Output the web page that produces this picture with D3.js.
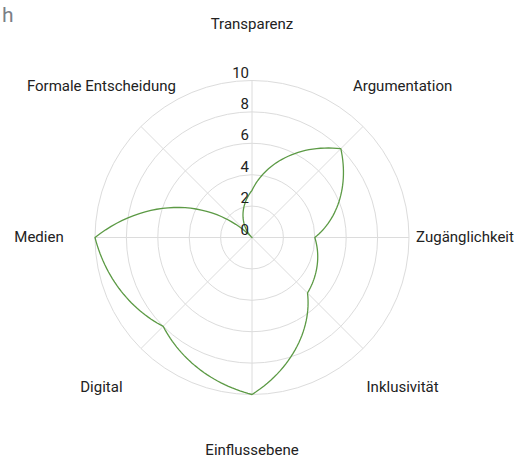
<!DOCTYPE html>
<html>
<head>
<meta charset="utf-8">
<script src="https://cdn.jsdelivr.net/npm/d3@7"></script>
<style>
  body { margin: 0; background: #fff; }
  svg { display: block; font-family: Roboto, "Liberation Sans", sans-serif; }
</style>
</head>
<body>
<div id="chart"></div>
<script>
const axes = ["Transparenz", "Argumentation", "Zugänglichkeit", "Inklusivität",
              "Einflussebene", "Digital", "Medien", "Formale Entscheidung"];
const values = [3, 8, 4, 5, 10, 8, 10, 0];
const ticks = [0, 2, 4, 6, 8, 10];

const w = 521, h = 458;
const cx = 252, cy = 237.5;
const radius = 157;
const labelRadius = 213;

const r = d3.scaleLinear().domain([0, 10]).range([0, radius]);
const step = 2 * Math.PI / axes.length;
const angle = i => i * step;

const svg = d3.select("#chart")
  .append("svg")
  .attr("width", w)
  .attr("height", h);

// cut-off title letter at top left
svg.append("text")
  .attr("x", 2)
  .attr("y", 22)
  .attr("font-size", 21)
  .attr("fill", "#7b7f86")
  .text("h");

const g = svg.append("g").attr("transform", `translate(${cx},${cy})`);

// grid circles
g.selectAll(".ring")
  .data(ticks.filter(d => d > 0))
  .join("circle")
    .attr("class", "ring")
    .attr("r", d => r(d))
    .attr("fill", "none")
    .attr("stroke", "#dcdcdc")
    .attr("stroke-width", 1);

// spokes
g.selectAll(".spoke")
  .data(axes)
  .join("line")
    .attr("class", "spoke")
    .attr("x1", 0).attr("y1", 0)
    .attr("x2", (d, i) => Math.sin(angle(i)) * radius)
    .attr("y2", (d, i) => -Math.cos(angle(i)) * radius)
    .attr("stroke", "#dcdcdc")
    .attr("stroke-width", 1);

// data line: segments run in polar space (angle and value change together),
// so the path has to be traced in small steps between neighbouring axes
const polarPath = vals => {
  const pts = [];
  const n = 30;
  vals.forEach((v, i) => {
    const next = vals[(i + 1) % vals.length];
    for (let k = 0; k < n; k++) {
      const t = k / n;
      pts.push([angle(i) + t * step, r(v + t * (next - v))]);
    }
  });
  return d3.lineRadial().curve(d3.curveLinearClosed)(pts);
};

g.append("path")
  .attr("d", polarPath(values))
  .attr("fill", "none")
  .attr("stroke", "#5c9a45")
  .attr("stroke-width", 1.3)
  .attr("stroke-linejoin", "round");

// tick labels
g.selectAll(".tick")
  .data(ticks)
  .join("text")
    .attr("class", "tick")
    .attr("x", -3)
    .attr("y", d => -r(d) - 3)
    .attr("text-anchor", "end")
    .attr("font-size", 15)
    .attr("fill", "#222")
    .text(d => d);

// axis labels
g.selectAll(".label")
  .data(axes)
  .join("text")
    .attr("class", "label")
    .attr("x", (d, i) => Math.sin(angle(i)) * labelRadius)
    .attr("y", (d, i) => -Math.cos(angle(i)) * labelRadius)
    .attr("dy", "0.28em")
    .attr("text-anchor", "middle")
    .attr("font-size", 15)
    .attr("fill", "#222")
    .text(d => d);
</script>
</body>
</html>
